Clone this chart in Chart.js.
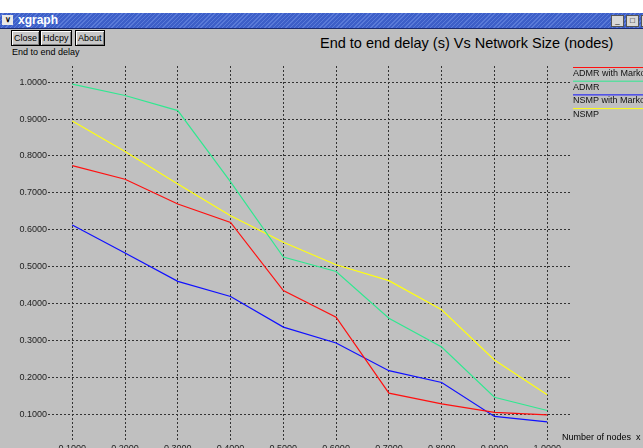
<!DOCTYPE html>
<html>
<head>
<meta charset="utf-8">
<script src="https://cdn.jsdelivr.net/npm/chart.js@4"></script>
<style>
  html, body { margin: 0; padding: 0; width: 643px; height: 448px; overflow: hidden; background: #c0c0c0; font-family: "Liberation Sans", Arial, sans-serif; }
  #top { position: absolute; left: 0; top: 0; width: 643px; height: 13px; background: #fff; }
  #bar { position: absolute; left: 0; top: 13px; width: 643px; height: 15px;
    background: repeating-linear-gradient(135deg, #3d5fc8 0px, #3d5fc8 2px, #5a7ad8 2px, #5a7ad8 3px);
    border-bottom: 1px solid #1a2a70; }
  #bar .arrow { position: absolute; left: 2px; top: 2px; width: 11px; height: 10px; background: #e8e8e8; color: #000;
    font-size: 8px; line-height: 10px; text-align: center; font-weight: bold; }
  #bar .name { position: absolute; left: 18px; top: 0px; color: #fff; font-size: 12px; font-weight: bold; }
  #bar .wb { position: absolute; top: 2px; width: 11px; height: 10px; background: #d8d8d8; border: 1px solid #555; font-size: 8px; line-height: 10px; text-align: center; color: #000; }
  .btn { position: absolute; top: 30px; height: 14px; border: 1px solid #000; box-shadow: inset 1px 1px 0 #fff, inset -1px -1px 0 #808080;
    font-size: 9px; line-height: 14px; padding: 0 2px; background: #c8c8c8; color: #000; }
  #title { position: absolute; left: 320px; top: 35px; font-size: 14.5px; color: #000; white-space: nowrap; }
  #ylab { position: absolute; left: 12px; top: 47px; font-size: 9px; color: #000; white-space: nowrap; }
  #xlab { position: absolute; left: 562px; top: 432px; font-size: 9px; color: #000; white-space: nowrap; }
  canvas { position: absolute; left: 0; top: 0; }
</style>
</head>
<body>
<div id="top"></div>
<div id="bar">
  <span class="arrow">&#8744;</span>
  <span class="name">xgraph</span>
  <span class="wb" style="left:611px">_</span>
  <span class="wb" style="left:626px">&#9633;</span>
  <span class="wb" style="left:641px">x</span>
</div>
<div class="btn" style="left:11px">Close</div>
<div class="btn" style="left:40px">Hdcpy</div>
<div class="btn" style="left:75px">About</div>
<div id="title">End to end delay (s) Vs Network Size (nodes)</div>
<div id="ylab">End to end delay</div>
<canvas id="chart" width="643" height="460"></canvas>
<div id="xlab">Number of nodes&nbsp;&nbsp;x 1</div>
<script>
const nodes = [0.1, 0.2, 0.3, 0.4, 0.5, 0.6, 0.7, 0.8, 0.9, 1.0];
const yTicks = [0.1, 0.2, 0.3, 0.4, 0.5, 0.6, 0.7, 0.8, 0.9, 1.0];

const admrMarkov = [0.774, 0.737, 0.670, 0.620, 0.435, 0.363, 0.157, 0.128, 0.105, 0.098];
const admr = [0.995, 0.964, 0.923, 0.730, 0.526, 0.487, 0.360, 0.282, 0.146, 0.110];
const nsmpMarkov = [0.613, 0.537, 0.460, 0.419, 0.336, 0.293, 0.218, 0.186, 0.094, 0.079];
const nsmp = [0.895, 0.812, 0.724, 0.638, 0.566, 0.505, 0.462, 0.383, 0.247, 0.153];

const seriesNames = ["ADMR with Markov", "ADMR", "NSMP with Markov", "NSMP"];
const seriesColors = ["#ff1010", "#30e890", "#1010ff", "#ffff10"];

function points(values) {
  return nodes.map((x, i) => ({ x: x, y: values[i] }));
}

// xgraph style key: a line with the name under it, right of the plot
const sideLegend = {
  id: "sideLegend",
  afterDraw(chart) {
    const ctx = chart.ctx;
    const area = chart.chartArea;
    ctx.save();
    ctx.font = "9px 'Liberation Sans', Arial, sans-serif";
    ctx.textBaseline = "middle";
    ctx.textAlign = "left";
    chart.data.datasets.forEach((ds, i) => {
      const y = area.top + 1.5 + i * 13.7;
      ctx.strokeStyle = ds.borderColor;
      ctx.lineWidth = 1;
      ctx.beginPath();
      ctx.moveTo(area.right + 1, y);
      ctx.lineTo(chart.width, y);
      ctx.stroke();
      ctx.fillStyle = "#111";
      ctx.fillText(ds.label, area.right + 1, y + 6);
    });
    ctx.restore();
  }
};

const gridStyle = { color: "#333", drawTicks: false };
const tickFont = { family: "'Liberation Sans', Arial, sans-serif", size: 9 };

new Chart(document.getElementById("chart"), {
  type: "line",
  data: {
    datasets: [admrMarkov, admr, nsmpMarkov, nsmp].map((vals, i) => ({
      label: seriesNames[i],
      data: points(vals),
      borderColor: seriesColors[i],
      borderWidth: 1.2,
      pointRadius: 0,
      tension: 0,
      fill: false
    }))
  },
  options: {
    responsive: false,
    animation: false,
    devicePixelRatio: 1,
    layout: { padding: { top: 66, right: 71, left: 0, bottom: 0 } },
    plugins: { legend: { display: false }, tooltip: { enabled: false } },
    scales: {
      x: {
        type: "linear",
        min: 0.054,
        max: 1.047,
        afterBuildTicks: (scale) => { scale.ticks = nodes.map((v) => ({ value: v })); },
        afterFit: (scale) => { scale.height = 20; },
        grid: gridStyle,
        border: { display: false, dash: [2, 2] },
        ticks: {
          autoSkip: false,
          maxRotation: 0,
          padding: 3,
          color: "#222",
          font: tickFont,
          callback: (v) => Number(v).toFixed(4)
        }
      },
      y: {
        min: 0.03,
        max: 1.044,
        afterBuildTicks: (scale) => { scale.ticks = yTicks.map((v) => ({ value: v })); },
        afterFit: (scale) => { scale.width = 48; },
        grid: gridStyle,
        border: { display: false, dash: [2, 2] },
        ticks: {
          autoSkip: false,
          padding: 1,
          color: "#222",
          font: tickFont,
          callback: (v) => Number(v).toFixed(4)
        }
      }
    }
  },
  plugins: [sideLegend]
});
</script>
</body>
</html>
